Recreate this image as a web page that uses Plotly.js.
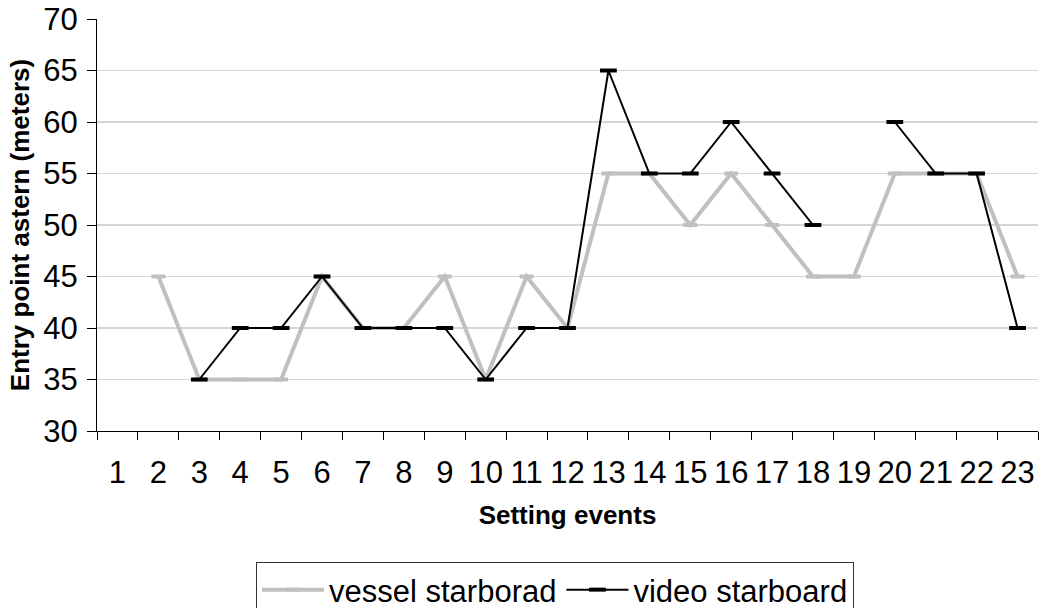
<!DOCTYPE html>
<html><head><meta charset="utf-8">
<script src="https://cdn.plot.ly/plotly-3.0.1.min.js"></script>
<style>html,body{margin:0;padding:0;background:#fff}#chart{width:1045px;height:608px}</style>
</head><body><div id="chart"></div>
<script>
const categories = ['1','2','3','4','5','6','7','8','9','10','11','12','13','14','15','16','17','18','19','20','21','22','23'];
const vesselStarboard = [null,45,35,35,35,45,40,40,45,35,45,40,55,55,50,55,50,45,45,55,55,55,45];
const videoStarboard = [null,null,35,40,40,45,40,40,40,35,40,40,65,55,55,60,55,50,null,60,55,55,40];
const seriesNames = ['vessel starborad', 'video starboard'];
const yTicks = [30,35,40,45,50,55,60,65,70];

const FONT = 'Liberation Sans, Arial, Helvetica, sans-serif';

const traces = [
  {
    x: categories, y: vesselStarboard, name: seriesNames[0], type: 'scatter', mode: 'lines+markers',
    connectgaps: false,
    line: {color: '#c0c0c0', width: 4},
    marker: {symbol: 'line-ew', size: 10, color: '#c0c0c0', line: {color: '#c0c0c0', width: 4}}
  },
  {
    x: categories, y: videoStarboard, name: seriesNames[1], type: 'scatter', mode: 'lines+markers',
    connectgaps: false,
    line: {color: '#000000', width: 2},
    marker: {symbol: 'line-ew', size: 12, color: '#000000', line: {color: '#000000', width: 4}}
  }
];

const layout = {
  width: 1045, height: 608,
  margin: {l: 97, r: 7, t: 19, b: 177, pad: 0},
  paper_bgcolor: '#ffffff', plot_bgcolor: '#ffffff',
  font: {family: FONT, color: '#000'},
  showlegend: true,
  legend: {
    orientation: 'h', xref: 'container', yref: 'container',
    x: 555/1045, xanchor: 'center', y: 1 - 562/608, yanchor: 'top',
    bordercolor: '#333', borderwidth: 1, bgcolor: '#fff',
    font: {family: FONT, size: 31, color: '#000'},
    itemwidth: 62
  },
  xaxis: {
    type: 'category', categoryorder: 'array', categoryarray: categories,
    range: [-0.5, 22.5], tickangle: 0,
    tickson: 'boundaries', ticks: 'outside', ticklen: 8, tickwidth: 1, tickcolor: '#000',
    showline: true, linecolor: '#000', linewidth: 1,
    showgrid: false, zeroline: false,
    tickfont: {family: FONT, size: 31, color: '#000'},
    ticklabelstandoff: 14,
    title: {text: '<b>Setting events</b>', font: {family: FONT, size: 26, color: '#000'}, standoff: 16}
  },
  yaxis: {
    range: [30, 70], tickvals: yTicks, ticktext: yTicks.map(String),
    ticks: 'outside', ticklen: 9, tickwidth: 1, tickcolor: '#000',
    showline: true, linecolor: '#000', linewidth: 1,
    showgrid: true, gridcolor: '#d6d6d6', gridwidth: 1.5, zeroline: false,
    tickfont: {family: FONT, size: 31, color: '#000'},
    ticklabelstandoff: 3,
    title: {text: '<b>Entry point astern (meters)</b>', font: {family: FONT, size: 26, color: '#000'}, standoff: 6}
  }
};

Plotly.newPlot('chart', traces, layout, {displayModeBar: false, staticPlot: true});
</script>
</body></html>
